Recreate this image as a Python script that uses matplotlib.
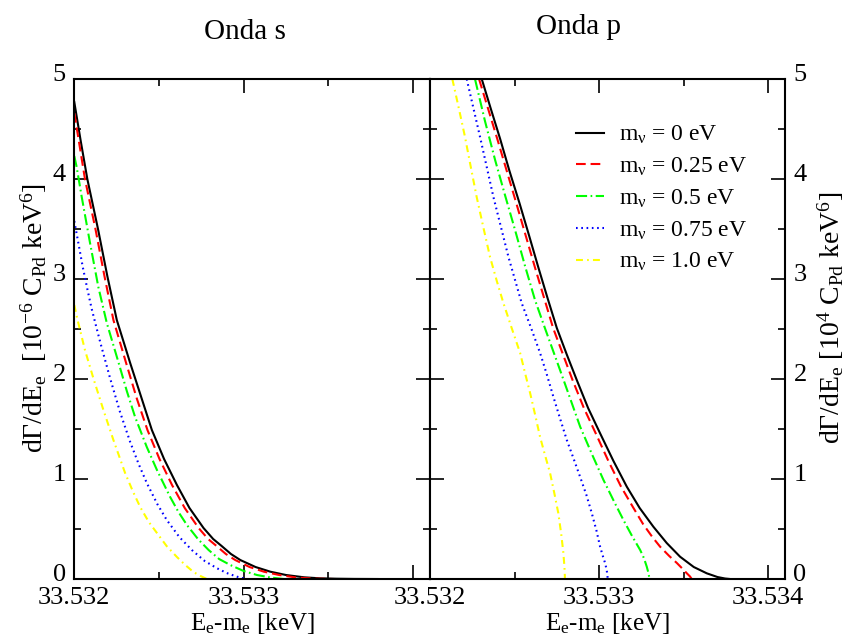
import matplotlib
matplotlib.use('Agg')
import matplotlib.pyplot as plt
import matplotlib.transforms as mtransforms
from matplotlib.ticker import MultipleLocator
import numpy as np

plt.rcParams['font.family'] = ['Liberation Serif', 'DejaVu Serif']
plt.rcParams['mathtext.fontset'] = 'custom'
plt.rcParams['mathtext.rm'] = 'Liberation Serif'
plt.rcParams['mathtext.it'] = 'Liberation Serif'
plt.rcParams['mathtext.bf'] = 'Liberation Serif:bold'
plt.rcParams['lines.scale_dashes'] = False

E_BASE = 33.532  # keV, offsets below are in 1e-6 keV

labels = ['m$_\\nu$ = 0 eV', 'm$_\\nu$ = 0.25 eV', 'm$_\\nu$ = 0.5 eV',
          'm$_\\nu$ = 0.75 eV', 'm$_\\nu$ = 1.0 eV']
colors = ['black', 'red', '#00ff00', 'blue', '#ffff00']
styles = ['-', (0, (7, 3.5)), (0, (8, 2.5, 1.2, 2.5)), (0, (1.2, 2.6)),
          (0, (5, 3, 1.2, 3))]

# ---- onda s  (dG/dE in 1e-6 Cpd keV^6)
s_E0 = [0, 38, 77, 140, 195, 251, 330, 395, 458, 530, 606, 680, 763, 820, 870, 925,
        980, 1070, 1158, 1250, 1357, 1450, 1550, 1650, 1790]
s_G0 = [4.77, 4.38, 4.00, 3.50, 3.03, 2.59, 2.16, 1.82, 1.49, 1.20, 0.94, 0.71, 0.51,
        0.40, 0.33, 0.25, 0.19, 0.12, 0.073, 0.040, 0.017, 0.007, 0.003, 0.001, 0.0]
s_E1 = [0, 25, 63, 125, 178, 231, 306, 370, 432, 503, 577, 652, 734, 790, 840, 895,
        950, 1035, 1120, 1210, 1310, 1420, 1530]
s_G1 = [4.66, 4.40, 4.00, 3.50, 3.03, 2.59, 2.16, 1.80, 1.49, 1.20, 0.94, 0.71, 0.51,
        0.40, 0.33, 0.25, 0.19, 0.12, 0.073, 0.040, 0.015, 0.004, 0.0]
s_E2 = [0, 14, 44, 93, 142, 192, 262, 310, 359, 428, 488, 566, 615, 665, 730, 793,
        855, 921, 1000, 1079, 1160, 1237]
s_G2 = [4.23, 4.12, 3.82, 3.36, 2.92, 2.56, 2.16, 1.88, 1.62, 1.32, 1.09, 0.82, 0.67,
        0.54, 0.40, 0.29, 0.20, 0.14, 0.08, 0.04, 0.015, 0.0]
s_E3 = [0, 24, 50, 77, 103, 133, 156, 211, 270, 330, 380, 428, 490, 546, 620, 694,
        770, 843, 900, 961, 1000, 1020]
s_G3 = [3.58, 3.36, 3.12, 2.90, 2.70, 2.50, 2.35, 2.01, 1.67, 1.37, 1.15, 0.96, 0.75,
        0.59, 0.42, 0.29, 0.18, 0.107, 0.06, 0.023, 0.006, 0.0]
s_E4 = [0, 18, 34, 63, 114, 172, 231, 300, 345, 389, 440, 488, 545, 606, 655, 704,
        745, 783]
s_G4 = [2.74, 2.60, 2.49, 2.29, 2.00, 1.69, 1.39, 1.06, 0.88, 0.72, 0.57, 0.46, 0.33,
        0.22, 0.14, 0.07, 0.03, 0.0]

# ---- onda p  (dG/dE in 1e4 Cpd keV^6)
p_E0 = [306, 360, 415, 470, 529, 585, 640, 695, 750, 810, 868, 935, 1006, 1085, 1164,
        1240, 1321, 1400, 1479, 1560, 1637, 1700, 1745, 1775]
p_G0 = [5.00, 4.70, 4.40, 4.08, 3.76, 3.44, 3.12, 2.81, 2.51, 2.24, 1.99, 1.71, 1.457,
        1.18, 0.923, 0.71, 0.523, 0.36, 0.223, 0.12, 0.057, 0.020, 0.005, 0.0]
p_E1 = [290, 398, 510, 620, 728, 843, 910, 980, 1055, 1130, 1200, 1260, 1315, 1361,
        1415, 1460, 1495, 1519, 1538, 1548]
p_G1 = [5.00, 4.40, 3.76, 3.12, 2.51, 1.99, 1.71, 1.457, 1.18, 0.923, 0.72, 0.55,
        0.42, 0.323, 0.23, 0.16, 0.10, 0.057, 0.025, 0.0]
p_E2 = [266, 325, 385, 445, 503, 562, 621, 680, 769, 830, 888, 960, 1026, 1090, 1144,
        1195, 1243, 1265, 1282, 1292, 1298]
p_G2 = [5.00, 4.58, 4.19, 3.83, 3.49, 3.13, 2.79, 2.507, 2.09, 1.80, 1.523, 1.24,
        0.99, 0.77, 0.59, 0.43, 0.29, 0.21, 0.123, 0.06, 0.0]
p_E3 = [217, 296, 375, 464, 542, 600, 651, 690, 730, 770, 809, 850, 888, 925, 957,
        985, 1006, 1024, 1036, 1045, 1049, 1051]
p_G3 = [5.00, 4.42, 3.82, 3.22, 2.76, 2.50, 2.26, 2.05, 1.82, 1.60, 1.39, 1.20, 1.02,
        0.84, 0.657, 0.48, 0.323, 0.22, 0.157, 0.09, 0.04, 0.0]
p_E4 = [132, 170, 207, 240, 276, 315, 355, 395, 434, 483, 533, 562, 592, 622, 651,
        680, 710, 735, 759, 776, 789, 795, 797, 798]
p_G4 = [5.00, 4.71, 4.42, 4.13, 3.82, 3.52, 3.22, 2.98, 2.76, 2.51, 2.26, 2.06, 1.86,
        1.64, 1.42, 1.24, 1.06, 0.86, 0.657, 0.45, 0.257, 0.12, 0.057, 0.0]

s_data = [(s_E0, s_G0), (s_E1, s_G1), (s_E2, s_G2), (s_E3, s_G3), (s_E4, s_G4)]
p_data = [(p_E0, p_G0), (p_E1, p_G1), (p_E2, p_G2), (p_E3, p_G3), (p_E4, p_G4)]

fig = plt.figure(figsize=(8.49, 6.44), dpi=100)
ax1 = fig.add_axes([0.0875, 0.1009, 0.419, 0.7764])
ax2 = fig.add_axes([0.5065, 0.1009, 0.4182, 0.7764])

shift_up = mtransforms.ScaledTranslation(0, 5 / 72, fig.dpi_scale_trans)

for ax, data in [(ax1, s_data), (ax2, p_data)]:
    for (e, g), c, ls, lab in zip(data, colors, styles, labels):
        x = E_BASE + np.array(e) * 1e-6
        ax.plot(x, g, color=c, linestyle=ls, linewidth=1.5, label=lab)
    ax.set_xlim(33.532, 33.5341)
    ax.set_ylim(0, 5)
    ax.set_xticks([33.532, 33.533, 33.534])
    ax.xaxis.set_minor_locator(MultipleLocator(0.0005))
    ax.yaxis.set_major_locator(MultipleLocator(1))
    ax.yaxis.set_minor_locator(MultipleLocator(0.5))
    ax.tick_params(which='both', direction='in', top=True, right=True, width=1.2,
                   labelsize=19, pad=6)
    ax.tick_params(which='major', length=10)
    ax.tick_params(which='minor', length=5)
    for sp in ax.spines.values():
        sp.set_linewidth(1.5)
    ax.set_xlabel('E$_e$-m$_e$ [keV]', fontsize=18, labelpad=1)

ax1.set_xticklabels(['33.532', '33.533', ''])
ax2.set_xticklabels(['33.532', '33.533', '33.534'])
ax2.tick_params(axis='y', labelleft=False, labelright=True)

for ax in (ax1, ax2):
    for lbl in ax.get_yticklabels():
        lbl.set_transform(lbl.get_transform() + shift_up)

fig.text(0.040, 0.507, 'd\u0393/dE$_e$  [10$^{-6}$ C$_{Pd}$ keV$^6$]', rotation=90,
         fontsize=20, ha='center', va='center')
fig.text(0.978, 0.507, 'd\u0393/dE$_e$ [10$^4$ C$_{Pd}$ keV$^6$]', rotation=90,
         fontsize=20, ha='center', va='center')

fig.text(245 / 849, 0.950, 'Onda s', fontsize=21, ha='center', va='center')
fig.text(578 / 849, 0.958, 'Onda p', fontsize=21, ha='center', va='center')

ax2.legend(loc='upper left', bbox_to_anchor=(0.41, 0.91), frameon=False, fontsize=17,
           handlelength=1.2, handletextpad=0.65, labelspacing=0.4, borderpad=0,
           borderaxespad=0)

fig.savefig('out.png', dpi=100)
